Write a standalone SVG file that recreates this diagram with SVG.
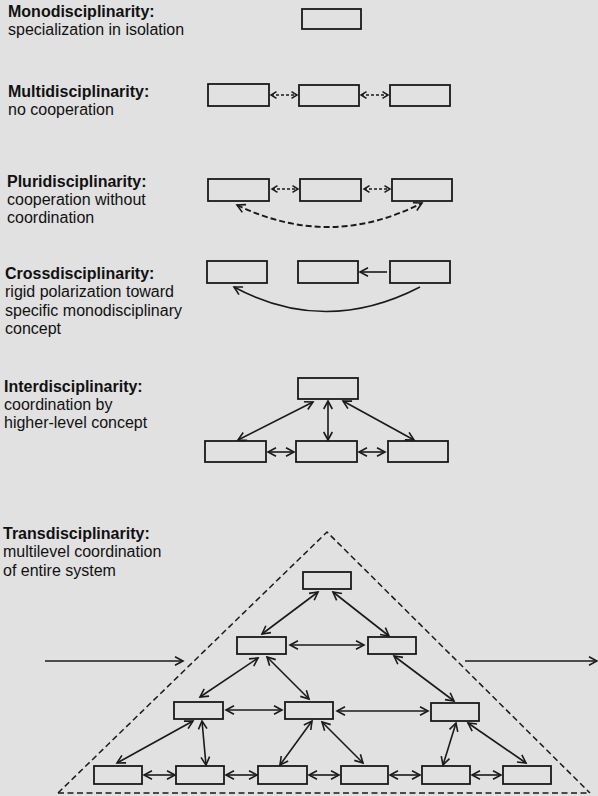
<svg xmlns="http://www.w3.org/2000/svg" width="598" height="796" viewBox="0 0 598 796">
  <style>
    .bg { fill: #e1e1e1; }
    .box { fill: none; stroke: #1a1a1a; stroke-width: 1.8; }
    .lbl { font-family: "Liberation Sans", Arial, Helvetica, sans-serif; font-size: 16px; fill: #111111; }
    .ttl { font-weight: bold; }
    .arr { fill: none; stroke: #1a1a1a; stroke-width: 1.6; }
    .dsm { fill: none; stroke: #1a1a1a; stroke-width: 1.5; stroke-dasharray: 3 2; }
    .dcurve { fill: none; stroke: #1a1a1a; stroke-width: 1.9; stroke-dasharray: 6 3; }
    .frame { fill: none; stroke: #1a1a1a; stroke-width: 1.5; stroke-dasharray: 6 3.5; }
  </style>
  <defs>
    <marker id="head" viewBox="-10 -6 12 12" refX="0" refY="0" markerWidth="12" markerHeight="12" markerUnits="userSpaceOnUse" orient="auto-start-reverse">
      <path d="M -8 -4.3 L 0 0 L -8 4.3" fill="none" stroke="#1a1a1a" stroke-width="1.6"/>
    </marker>
    <marker id="headS" viewBox="-8 -5 10 10" refX="0" refY="0" markerWidth="10" markerHeight="10" markerUnits="userSpaceOnUse" orient="auto-start-reverse">
      <path d="M -5.5 -3.3 L 0 0 L -5.5 3.3" fill="none" stroke="#1a1a1a" stroke-width="1.5"/>
    </marker>
  </defs>

  <rect class="bg" x="0" y="0" width="598" height="796"/>

  <!-- Labels -->
  <g id="labels" class="lbl">
    <text x="8" y="17" class="ttl">Monodisciplinarity:</text>
    <text x="8" y="35">specialization in isolation</text>

    <text x="8" y="97" class="ttl">Multidisciplinarity:</text>
    <text x="8" y="115">no cooperation</text>

    <text x="7" y="187" class="ttl">Pluridisciplinarity:</text>
    <text x="7" y="205">cooperation without</text>
    <text x="7" y="223">coordination</text>

    <text x="5" y="279" class="ttl">Crossdisciplinarity:</text>
    <text x="5" y="297">rigid polarization toward</text>
    <text x="5" y="316">specific monodisciplinary</text>
    <text x="5" y="334">concept</text>

    <text x="4" y="392" class="ttl">Interdisciplinarity:</text>
    <text x="4" y="410">coordination by</text>
    <text x="4" y="428">higher-level concept</text>

    <text x="3" y="539" class="ttl">Transdisciplinarity:</text>
    <text x="3" y="557">multilevel coordination</text>
    <text x="3" y="576">of entire system</text>
  </g>

  <!-- Monodisciplinarity -->
  <g id="mono-1"><rect class="box" x="302" y="9" width="59" height="20"/></g>

  <!-- Multidisciplinarity -->
  <g id="multi-1"><rect class="box" x="208" y="84" width="61" height="22"/></g>
  <g id="multi-2"><rect class="box" x="299" y="85" width="60" height="21"/></g>
  <g id="multi-3"><rect class="box" x="390" y="85" width="60" height="21"/></g>

  <!-- Pluridisciplinarity -->
  <g id="pluri-1"><rect class="box" x="208" y="179" width="61" height="22"/></g>
  <g id="pluri-2"><rect class="box" x="300" y="179" width="61" height="22"/></g>
  <g id="pluri-3"><rect class="box" x="392" y="179" width="60" height="22"/></g>

  <!-- Crossdisciplinarity -->
  <g id="cross-1"><rect class="box" x="207" y="261" width="60" height="22"/></g>
  <g id="cross-2"><rect class="box" x="298" y="261" width="60" height="22"/></g>
  <g id="cross-3"><rect class="box" x="390" y="261" width="60" height="22"/></g>

  <!-- Interdisciplinarity -->
  <g id="inter-top"><rect class="box" x="298" y="378" width="60" height="21"/></g>
  <g id="inter-1"><rect class="box" x="205" y="441" width="61" height="21"/></g>
  <g id="inter-2"><rect class="box" x="296" y="441" width="61" height="21"/></g>
  <g id="inter-3"><rect class="box" x="388" y="441" width="60" height="21"/></g>

  <!-- Transdisciplinarity -->
  <g id="trans-frame">
    <path class="frame" d="M 58 793 L 327 532 L 590 793"/>
    <path class="frame" d="M 58 793 L 590 793"/>
  </g>
  <g id="trans-top"><rect class="box" x="303" y="572" width="48" height="17"/></g>
  <g id="trans-l2-a"><rect class="box" x="237" y="637" width="49" height="17"/></g>
  <g id="trans-l2-b"><rect class="box" x="368" y="637" width="48" height="17"/></g>
  <g id="trans-l3-a"><rect class="box" x="174" y="702" width="49" height="17"/></g>
  <g id="trans-l3-b"><rect class="box" x="285" y="702" width="48" height="17"/></g>
  <g id="trans-l3-c"><rect class="box" x="431" y="703" width="48" height="18"/></g>
  <g id="trans-l4-1"><rect class="box" x="94" y="766" width="48" height="18"/></g>
  <g id="trans-l4-2"><rect class="box" x="176" y="766" width="48" height="18"/></g>
  <g id="trans-l4-3"><rect class="box" x="258" y="766" width="49" height="18"/></g>
  <g id="trans-l4-4"><rect class="box" x="341" y="766" width="47" height="18"/></g>
  <g id="trans-l4-5"><rect class="box" x="422" y="766" width="48" height="18"/></g>
  <g id="trans-l4-6"><rect class="box" x="503" y="766" width="48" height="18"/></g>

  <!-- Connectors -->
  <g id="connectors">
    <!-- multi -->
    <line class="dsm" x1="271" y1="95" x2="297" y2="95" marker-start="url(#headS)" marker-end="url(#headS)"/>
    <line class="dsm" x1="361" y1="95" x2="388" y2="95" marker-start="url(#headS)" marker-end="url(#headS)"/>
    <!-- pluri -->
    <line class="dsm" x1="272" y1="189" x2="298" y2="189" marker-start="url(#headS)" marker-end="url(#headS)"/>
    <line class="dsm" x1="364" y1="189" x2="390" y2="189" marker-start="url(#headS)" marker-end="url(#headS)"/>
    <path class="dcurve" d="M 237 205 Q 330 250 422 203" marker-start="url(#head)" marker-end="url(#head)"/>
    <!-- cross -->
    <line class="arr" x1="387" y1="272" x2="360" y2="272" marker-end="url(#head)"/>
    <path class="arr" d="M 420 287 Q 325 336 234 287" marker-end="url(#head)"/>
    <!-- inter -->
    <line class="arr" x1="313" y1="402" x2="238" y2="440" marker-start="url(#head)" marker-end="url(#head)"/>
    <line class="arr" x1="328" y1="401" x2="328" y2="440" marker-start="url(#head)" marker-end="url(#head)"/>
    <line class="arr" x1="343" y1="401" x2="414" y2="440" marker-start="url(#head)" marker-end="url(#head)"/>
    <line class="arr" x1="268" y1="452" x2="294" y2="452" marker-start="url(#head)" marker-end="url(#head)"/>
    <line class="arr" x1="359" y1="452" x2="385" y2="452" marker-start="url(#head)" marker-end="url(#head)"/>
    <!-- trans: in / out -->
    <line class="arr" x1="45" y1="661" x2="183" y2="661" marker-end="url(#head)"/>
    <line class="arr" x1="465" y1="661" x2="597" y2="661" marker-end="url(#head)"/>
    <!-- trans: top to level 2 -->
    <line class="arr" x1="318" y1="592" x2="262" y2="634" marker-start="url(#head)" marker-end="url(#head)"/>
    <line class="arr" x1="333" y1="592" x2="389" y2="636" marker-start="url(#head)" marker-end="url(#head)"/>
    <line class="arr" x1="290" y1="645" x2="364" y2="645" marker-start="url(#head)" marker-end="url(#head)"/>
    <!-- level 2 to level 3 -->
    <line class="arr" x1="258" y1="658" x2="200" y2="697" marker-start="url(#head)" marker-end="url(#head)"/>
    <line class="arr" x1="267" y1="657" x2="309" y2="699" marker-start="url(#head)" marker-end="url(#head)"/>
    <line class="arr" x1="394" y1="656" x2="454" y2="701" marker-start="url(#head)" marker-end="url(#head)"/>
    <line class="arr" x1="226" y1="710" x2="282" y2="710" marker-start="url(#head)" marker-end="url(#head)"/>
    <line class="arr" x1="337" y1="711" x2="428" y2="711" marker-start="url(#head)" marker-end="url(#head)"/>
    <!-- level 3 to level 4 -->
    <line class="arr" x1="193" y1="721" x2="117" y2="763" marker-start="url(#head)" marker-end="url(#head)"/>
    <line class="arr" x1="202" y1="721" x2="206" y2="765" marker-start="url(#head)" marker-end="url(#head)"/>
    <line class="arr" x1="312" y1="721" x2="280" y2="765" marker-start="url(#head)" marker-end="url(#head)"/>
    <line class="arr" x1="322" y1="722" x2="363" y2="763" marker-start="url(#head)" marker-end="url(#head)"/>
    <line class="arr" x1="456" y1="723" x2="443" y2="765" marker-start="url(#head)" marker-end="url(#head)"/>
    <line class="arr" x1="468" y1="723" x2="526" y2="763" marker-start="url(#head)" marker-end="url(#head)"/>
    <!-- level 4 row -->
    <line class="arr" x1="144" y1="775" x2="175" y2="775" marker-start="url(#head)" marker-end="url(#head)"/>
    <line class="arr" x1="226" y1="775" x2="257" y2="775" marker-start="url(#head)" marker-end="url(#head)"/>
    <line class="arr" x1="309" y1="775" x2="339" y2="775" marker-start="url(#head)" marker-end="url(#head)"/>
    <line class="arr" x1="390" y1="775" x2="420" y2="775" marker-start="url(#head)" marker-end="url(#head)"/>
    <line class="arr" x1="472" y1="775" x2="501" y2="775" marker-start="url(#head)" marker-end="url(#head)"/>
  </g>
</svg>
